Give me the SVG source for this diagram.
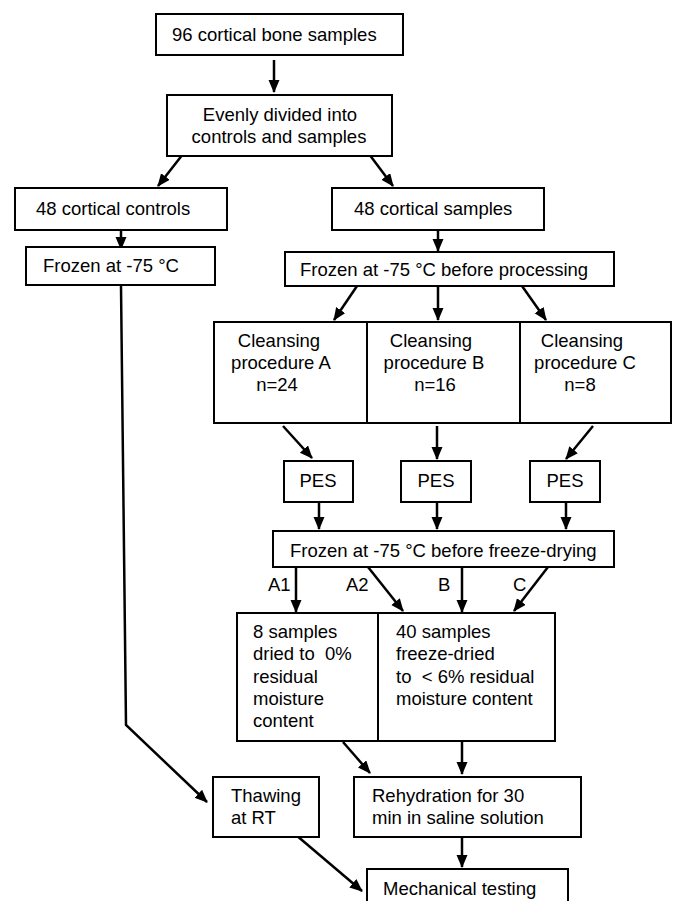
<svg xmlns="http://www.w3.org/2000/svg" width="673" height="901" viewBox="0 0 673 901">
<style>
.box{fill:#fff;stroke:#000;stroke-width:2}
.t{font-family:"Liberation Sans",Arial,sans-serif;font-size:18.5px;fill:#000;white-space:pre}
.m{text-anchor:middle}
.c{fill:none;stroke:#000;stroke-width:2.5}
</style>
<defs>
<marker id="ah" markerUnits="userSpaceOnUse" markerWidth="14" markerHeight="12" refX="12" refY="5.5" orient="auto">
<path d="M0,0 L13,5.5 L0,11 z" fill="#000"/>
</marker>
</defs>
<rect width="673" height="901" fill="#fff"/>
<g id="connectors">
<line class="c" x1="274" y1="60" x2="274" y2="92" marker-end="url(#ah)"/>
<line class="c" x1="183" y1="154" x2="158" y2="186" marker-end="url(#ah)"/>
<line class="c" x1="369" y1="154" x2="393" y2="186" marker-end="url(#ah)"/>
<line class="c" x1="121" y1="230" x2="121" y2="249" marker-end="url(#ah)"/>
<line class="c" x1="438" y1="230" x2="438" y2="251" marker-end="url(#ah)"/>
<line class="c" x1="357" y1="286" x2="334" y2="320" marker-end="url(#ah)"/>
<line class="c" x1="438" y1="286" x2="438" y2="320" marker-end="url(#ah)"/>
<line class="c" x1="522" y1="286" x2="546" y2="320" marker-end="url(#ah)"/>
<line class="c" x1="283" y1="426" x2="312" y2="458" marker-end="url(#ah)"/>
<line class="c" x1="437" y1="426" x2="437" y2="459" marker-end="url(#ah)"/>
<line class="c" x1="593" y1="426" x2="566" y2="459" marker-end="url(#ah)"/>
<line class="c" x1="319" y1="502" x2="319" y2="529" marker-end="url(#ah)"/>
<line class="c" x1="437" y1="502" x2="437" y2="529" marker-end="url(#ah)"/>
<line class="c" x1="566" y1="502" x2="566" y2="529" marker-end="url(#ah)"/>
<line class="c" x1="296" y1="567" x2="296" y2="612" marker-end="url(#ah)"/>
<line class="c" x1="368" y1="567" x2="403" y2="611" marker-end="url(#ah)"/>
<line class="c" x1="462" y1="567" x2="462" y2="612" marker-end="url(#ah)"/>
<line class="c" x1="548" y1="567" x2="514" y2="611" marker-end="url(#ah)"/>
<polyline class="c" points="121,286 126,725 207,802" marker-end="url(#ah)"/>
<line class="c" x1="343" y1="742" x2="370" y2="773" marker-end="url(#ah)"/>
<line class="c" x1="462" y1="742" x2="462" y2="774" marker-end="url(#ah)"/>
<line class="c" x1="462" y1="837" x2="462" y2="867" marker-end="url(#ah)"/>
<line class="c" x1="296" y1="835" x2="362" y2="891" marker-end="url(#ah)"/>
</g>
<g id="n1"><rect class="box" x="156" y="14" width="247" height="41"/><text class="t" x="172" y="41">96 cortical bone samples</text></g>
<g id="n2"><rect class="box" x="167" y="95" width="225" height="61"/><text class="t m" x="280" y="121">Evenly divided into</text><text class="t m" x="279" y="143">controls and samples</text></g>
<g id="n3"><rect class="box" x="15" y="188" width="212" height="42"/><text class="t" x="36" y="215">48 cortical controls</text></g>
<g id="n4"><rect class="box" x="332" y="188" width="212" height="42"/><text class="t" x="354" y="215">48 cortical samples</text></g>
<g id="n5"><rect class="box" x="26" y="247" width="189" height="38"/><text class="t" x="43" y="272">Frozen at -75 °C</text></g>
<g id="n6"><rect class="box" x="285" y="252" width="329" height="34"/><text class="t" x="300" y="276">Frozen at -75 °C before processing</text></g>
<g id="n7"><rect class="box" x="214" y="322" width="153" height="101"/><text class="t m" x="279" y="347">Cleansing</text><text class="t m" x="281" y="369">procedure A</text><text class="t m" x="277" y="391">n=24</text></g>
<g id="n8"><rect class="box" x="367" y="322" width="153" height="101"/><text class="t m" x="431" y="347">Cleansing</text><text class="t m" x="434" y="369">procedure B</text><text class="t m" x="435" y="391">n=16</text></g>
<g id="n9"><rect class="box" x="520" y="322" width="151" height="101"/><text class="t m" x="582" y="347">Cleansing</text><text class="t m" x="585" y="369">procedure C</text><text class="t m" x="580" y="391">n=8</text></g>
<g id="n10"><rect class="box" x="284" y="461" width="69" height="41"/><text class="t m" x="318" y="487">PES</text></g>
<g id="n11"><rect class="box" x="401" y="461" width="70" height="41"/><text class="t m" x="436" y="487">PES</text></g>
<g id="n12"><rect class="box" x="530" y="461" width="70" height="41"/><text class="t m" x="565" y="487">PES</text></g>
<g id="n13"><rect class="box" x="273" y="531" width="341" height="36"/><text class="t" x="290" y="557">Frozen at -75 °C before freeze-drying</text></g>
<g id="labels"><text class="t" x="268" y="591">A1</text><text class="t" x="346" y="591">A2</text><text class="t" x="438" y="591">B</text><text class="t" x="513" y="591">C</text></g>
<g id="n14"><rect class="box" x="237" y="613" width="141" height="128"/><text class="t" x="253" y="638">8 samples</text><text class="t" x="253" y="660">dried to  0%</text><text class="t" x="253" y="683">residual</text><text class="t" x="253" y="705">moisture</text><text class="t" x="253" y="727">content</text></g>
<g id="n15"><rect class="box" x="378" y="613" width="177" height="128"/><text class="t" x="396" y="638">40 samples</text><text class="t" x="396" y="660">freeze-dried</text><text class="t" x="396" y="683">to  &lt; 6% residual</text><text class="t" x="396" y="705">moisture content</text></g>
<g id="n16"><rect class="box" x="213" y="777" width="106" height="60"/><text class="t" x="231" y="802">Thawing</text><text class="t" x="231" y="824">at RT</text></g>
<g id="n17"><rect class="box" x="354" y="777" width="227" height="60"/><text class="t" x="372" y="802">Rehydration for 30</text><text class="t" x="372" y="824">min in saline solution</text></g>
<g id="n18"><rect class="box" x="367" y="869" width="201" height="40"/><text class="t" x="383" y="895">Mechanical testing</text></g>
</svg>
